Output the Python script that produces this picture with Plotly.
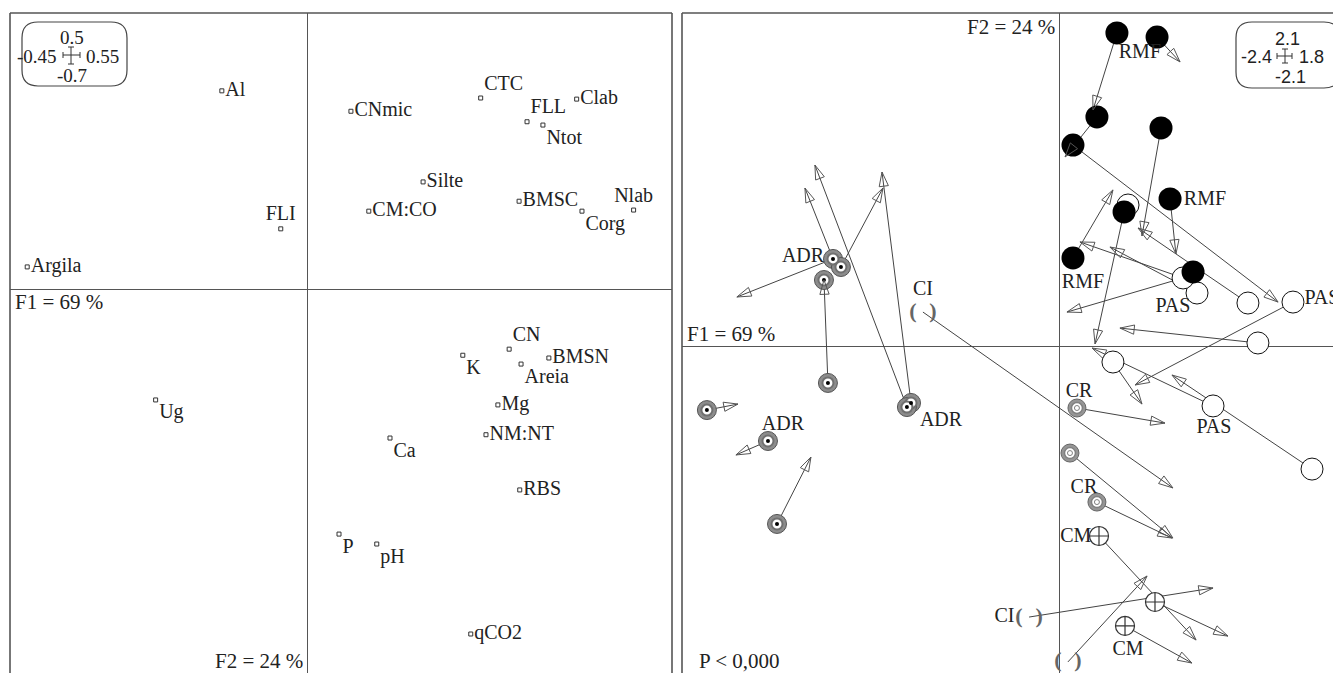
import math
import plotly.graph_objects as go

W, H = 1333, 673

# ---------------- Left panel: variables on F1 x F2 ----------------
var_names = ["Al", "FLI", "Argila", "CNmic", "CTC", "Clab", "FLL", "Ntot", "Silte", "CM:CO",
             "BMSC", "Corg", "Nlab", "Ug", "CN", "K", "BMSN", "Areia", "Mg", "NM:NT",
             "Ca", "RBS", "P", "pH", "qCO2"]
var_f1 = [-0.130, -0.041, -0.424, 0.065, 0.261, 0.406, 0.331, 0.355, 0.174, 0.092,
          0.319, 0.414, 0.492, -0.230, 0.304, 0.234, 0.364, 0.322, 0.287, 0.269,
          0.124, 0.320, 0.047, 0.104, 0.246]
var_f2 = [0.359, 0.109, 0.040, 0.322, 0.346, 0.344, 0.303, 0.297, 0.194, 0.141,
          0.159, 0.141, 0.143, -0.201, -0.109, -0.120, -0.125, -0.136, -0.210, -0.264,
          -0.270, -0.364, -0.444, -0.462, -0.625]
var_textpos = ["middle right", "top center", "middle right", "middle right", "top right",
               "middle right", "top right", "bottom right", "middle right", "middle right",
               "middle right", "bottom right", "top center", "bottom right", "top right",
               "bottom right", "middle right", "bottom right", "middle right", "middle right",
               "bottom right", "middle right", "bottom right", "bottom right", "middle right"]

# ---------------- Right panel: sites (start) and arrows (to matched position) ----------------
adr_x = [-1.431, -1.381, -1.488, -1.463, -0.939, -0.965, -2.226, -1.841, -1.784]
adr_y = [0.549, 0.498, 0.416, -0.233, -0.359, -0.385, -0.404, -0.599, -1.122]
adr_from = [0, 0, 1, 3, 4, 5, 6, 7, 8]
adr_to_x = [-2.037, -1.608, -1.116, -1.488, -1.122, -1.545, -2.030, -2.043, -1.570]
adr_to_y = [0.309, 0.996, 0.996, 0.416, 1.097, 1.141, -0.366, -0.687, -0.700]

rmf_x = [0.359, 0.612, 0.233, 0.082, 0.637, 0.694, 0.404, 0.082, 0.839]
rmf_y = [1.974, 1.948, 1.444, 1.267, 1.375, 0.927, 0.845, 0.555, 0.467]
rmf_from = [0, 1, 2, 3, 4, 5, 6, 7]
rmf_to_x = [0.208, 0.757, 0.032, 1.375, 0.517, 0.731, 0.221, 0.334]
rmf_to_y = [1.488, 1.791, 1.192, 0.277, 0.694, 0.580, 0.013, 0.984]

pas_x = [1.469, 1.185, 0.864, 0.776, 1.248, 0.334, 0.965, 1.589, 0.429]
pas_y = [0.277, 0.271, 0.334, 0.429, 0.019, -0.101, -0.378, -0.776, 0.889]
pas_from = [0, 1, 2, 3, 3, 4, 5, 6, 7]
pas_to_x = [0.473, 0.492, 0.315, 0.126, 0.044, 0.378, 0.517, 0.202, 0.706]
pas_to_y = [-0.246, 0.744, 0.624, 0.656, 0.214, 0.113, -0.366, -0.013, -0.183]

cr_x = [0.107, 0.063, 0.233]
cr_y = [-0.391, -0.675, -0.984]
cr_from = [0, 1, 2]
cr_to_x = [0.662, 0.712, 0.706]
cr_to_y = [-0.486, -1.211, -1.211]

cm_x = [0.246, 0.599, 0.410]
cm_y = [-1.198, -1.614, -1.765]
cm_from = [0, 1, 2]
cm_to_x = [0.858, 1.059, 0.832]
cm_to_y = [-1.854, -1.829, -1.999]

ci_x = [-0.864, -0.195, 0.050]
ci_y = [0.214, -1.709, -1.992]
ci_from = [0, 1, 2]
ci_to_x = [0.712, 0.965, 0.549]
ci_to_y = [-0.895, -1.526, -1.450]

group_labels = ["ADR", "ADR", "ADR", "CI", "CI", "CR", "CR", "CM", "CM",
                "RMF", "RMF", "RMF", "PAS", "PAS", "PAS"]
group_label_x = [-1.620, -1.747, -0.750, -0.864, -0.350, 0.120, 0.151, 0.100, 0.429,
                 0.504, 0.914, 0.145, 0.712, 1.652, 0.971]
group_label_y = [0.561, -0.498, -0.473, 0.352, -1.709, -0.290, -0.895, -1.205, -1.917,
                 1.847, 0.921, 0.397, 0.246, 0.296, -0.517]

SERIF = "Liberation Serif"
SANS = "Liberation Sans"
TXT = "#222222"
LINE = "#555555"

fig = go.Figure()

# ---- left panel points
fig.add_trace(go.Scatter(
    x=var_f1, y=var_f2, mode="markers+text", text=var_names, textposition=var_textpos,
    marker=dict(symbol="square-open", size=4, color="#333", line=dict(width=1)),
    textfont=dict(family=SERIF, size=20, color=TXT),
    xaxis="x", yaxis="y", cliponaxis=False, hoverinfo="skip", showlegend=False))

# ---- right panel arrows
groups = [
    (adr_x, adr_y, adr_from, adr_to_x, adr_to_y),
    (rmf_x, rmf_y, rmf_from, rmf_to_x, rmf_to_y),
    (pas_x, pas_y, pas_from, pas_to_x, pas_to_y),
    (cr_x, cr_y, cr_from, cr_to_x, cr_to_y),
    (cm_x, cm_y, cm_from, cm_to_x, cm_to_y),
    (ci_x, ci_y, ci_from, ci_to_x, ci_to_y),
]
lx, ly, hx, hy, hang = [], [], [], [], []
for gx, gy, gf, tx, ty in groups:
    for i, j in enumerate(gf):
        x0, y0, x1, y1 = gx[j], gy[j], tx[i], ty[i]
        lx += [x0, x1, None]
        ly += [y0, y1, None]
        hx.append(x1)
        hy.append(y1)
        hang.append(math.degrees(math.atan2(x1 - x0, y1 - y0)))

fig.add_trace(go.Scatter(
    x=lx, y=ly, mode="lines", line=dict(color="#444", width=1),
    xaxis="x2", yaxis="y2", hoverinfo="skip", showlegend=False, cliponaxis=True))


def add_pts(x, y, size, color, line_color, line_width, symbol="circle"):
    fig.add_trace(go.Scatter(
        x=x, y=y, mode="markers",
        marker=dict(symbol=symbol, size=size, color=color,
                    line=dict(color=line_color, width=line_width)),
        xaxis="x2", yaxis="y2", hoverinfo="skip", showlegend=False, cliponaxis=False))


# ADR: bullseye with dot
add_pts(adr_x, adr_y, 19, "#8c8c8c", "#555", 1)
add_pts(adr_x, adr_y, 11, "white", "#707070", 2)
add_pts(adr_x, adr_y, 4, "black", "black", 0)
# CR: concentric grey rings
add_pts(cr_x, cr_y, 18, "#959595", "#666", 1)
add_pts(cr_x, cr_y, 11, "white", "#808080", 1.5)
add_pts(cr_x, cr_y, 5, "white", "#808080", 1)
# PAS: open circle
add_pts(pas_x, pas_y, 22, "white", "#111", 1)
# RMF: filled black circle
add_pts(rmf_x, rmf_y, 23, "black", "black", 0)
# CM: circle with cross
add_pts(cm_x, cm_y, 19, "white", "#333", 1.2, symbol="circle-cross")
# CI: parentheses
fig.add_trace(go.Scatter(
    x=ci_x, y=ci_y, mode="text", text=["(\u2002\u200a)"] * len(ci_x), textposition="middle center",
    textfont=dict(family=SERIF, size=22, color="#666", weight="bold"),
    xaxis="x2", yaxis="y2", hoverinfo="skip", showlegend=False, cliponaxis=False))

# arrowheads on top
fig.add_trace(go.Scatter(
    x=hx, y=hy, mode="markers",
    marker=dict(symbol="arrow-open", size=15, angle=hang, color="#555",
                line=dict(color="#555", width=1)),
    xaxis="x2", yaxis="y2", hoverinfo="skip", showlegend=False, cliponaxis=False))

# group labels
fig.add_trace(go.Scatter(
    x=group_label_x, y=group_label_y, mode="text", text=group_labels,
    textposition="middle center", textfont=dict(family=SERIF, size=20, color=TXT),
    xaxis="x2", yaxis="y2", hoverinfo="skip", showlegend=False, cliponaxis=False))

# ---- axes
ax_common = dict(showgrid=False, showticklabels=False, ticks="", showline=False,
                 zeroline=True, zerolinecolor=LINE, zerolinewidth=1.3, fixedrange=True)
fig.update_layout(
    width=W, height=H, margin=dict(l=0, r=0, t=0, b=0),
    paper_bgcolor="white", plot_bgcolor="white", showlegend=False,
    xaxis=dict(domain=[10 / W, 672 / W], range=[-0.45, 0.55], anchor="y", **ax_common),
    yaxis=dict(domain=[0, 1 - 13 / H], range=[0.5 - (H - 13) / 552, 0.5], anchor="x", **ax_common),
    xaxis2=dict(domain=[682 / W, 1], range=[-2.383, 1.7213], anchor="y2", **ax_common),
    yaxis2=dict(domain=[0, 1 - 13 / H], range=[-2.0618, 2.0996], anchor="x2", **ax_common),
)

# ---- frames
shapes = []
for xr, yr, sides in [("x domain", "y domain", ("top", "left", "right")),
                      ("x2 domain", "y2 domain", ("top", "left"))]:
    if "top" in sides:
        shapes.append(dict(type="line", xref=xr, yref=yr, x0=0, x1=1, y0=1, y1=1,
                           line=dict(color=LINE, width=1.6)))
    if "left" in sides:
        shapes.append(dict(type="line", xref=xr, yref=yr, x0=0, x1=0, y0=0, y1=1,
                           line=dict(color=LINE, width=1.6)))
    if "right" in sides:
        shapes.append(dict(type="line", xref=xr, yref=yr, x0=1, x1=1, y0=0, y1=1,
                           line=dict(color=LINE, width=1.6)))


def P(px, py):
    return px / W, 1 - py / H


def rounded_box(x0, y0, x1, y1, r):
    def f(px, py):
        a, b = P(px, py)
        return f"{a:.5f},{b:.5f}"
    path = (f"M {f(x0 + r, y0)} L {f(x1 - r, y0)} Q {f(x1, y0)} {f(x1, y0 + r)} "
            f"L {f(x1, y1 - r)} Q {f(x1, y1)} {f(x1 - r, y1)} "
            f"L {f(x0 + r, y1)} Q {f(x0, y1)} {f(x0, y1 - r)} "
            f"L {f(x0, y0 + r)} Q {f(x0, y0)} {f(x0 + r, y0)} Z")
    return dict(type="path", xref="paper", yref="paper", path=path,
                line=dict(color="#444", width=1.2), fillcolor="white")


def cross(cx, cy, hl, hr, vt, vb, cap):
    segs = [((cx - hl, cy), (cx + hr, cy)), ((cx, cy - vt), (cx, cy + vb)),
            ((cx - hl, cy - cap), (cx - hl, cy + cap)), ((cx + hr, cy - cap), (cx + hr, cy + cap)),
            ((cx - cap, cy - vt), (cx + cap, cy - vt)), ((cx - cap, cy + vb), (cx + cap, cy + vb))]
    out = []
    for (a, b), (c, d) in segs:
        p0 = P(a, b)
        p1 = P(c, d)
        out.append(dict(type="line", xref="paper", yref="paper", x0=p0[0], y0=p0[1],
                        x1=p1[0], y1=p1[1], line=dict(color="#333", width=1)))
    return out


shapes.append(rounded_box(22, 22, 127, 86, 16))
shapes += cross(71, 55, 8, 9, 8, 9, 3)
shapes.append(rounded_box(1236, 22, 1340, 88, 16))
shapes += cross(1285, 56, 8, 7, 7, 7, 3)

annotations = []


def note(text, px, py, xanchor="center", family=SERIF, size=19):
    x, y = P(px, py)
    annotations.append(dict(text=text, x=x, y=y, xref="paper", yref="paper", xanchor=xanchor,
                            yanchor="middle", showarrow=False,
                            font=dict(family=family, size=size, color=TXT)))


note("F1 = 69 %", 13, 302, "left", size=21)
note("F2 = 24 %", 305, 661, "right", size=21)
note("F2 = 24 %", 1057, 27, "right", size=21)
note("F1 = 69 %", 685, 334, "left", size=21)
note("P < 0,000", 697, 661, "left", size=21)
note("0.5", 72, 37)
note("-0.45", 37, 56)
note("0.55", 102, 56)
note("-0.7", 72, 75)
note("2.1", 1287, 39, family=SANS, size=18)
note("-2.4", 1256, 57, family=SANS, size=18)
note("1.8", 1311, 57, family=SANS, size=18)
note("-2.1", 1290, 77, family=SANS, size=18)

fig.update_layout(shapes=shapes, annotations=annotations)

fig.write_html("out.html", config={"displayModeBar": False},
               post_script="document.body.style.margin='0';")
